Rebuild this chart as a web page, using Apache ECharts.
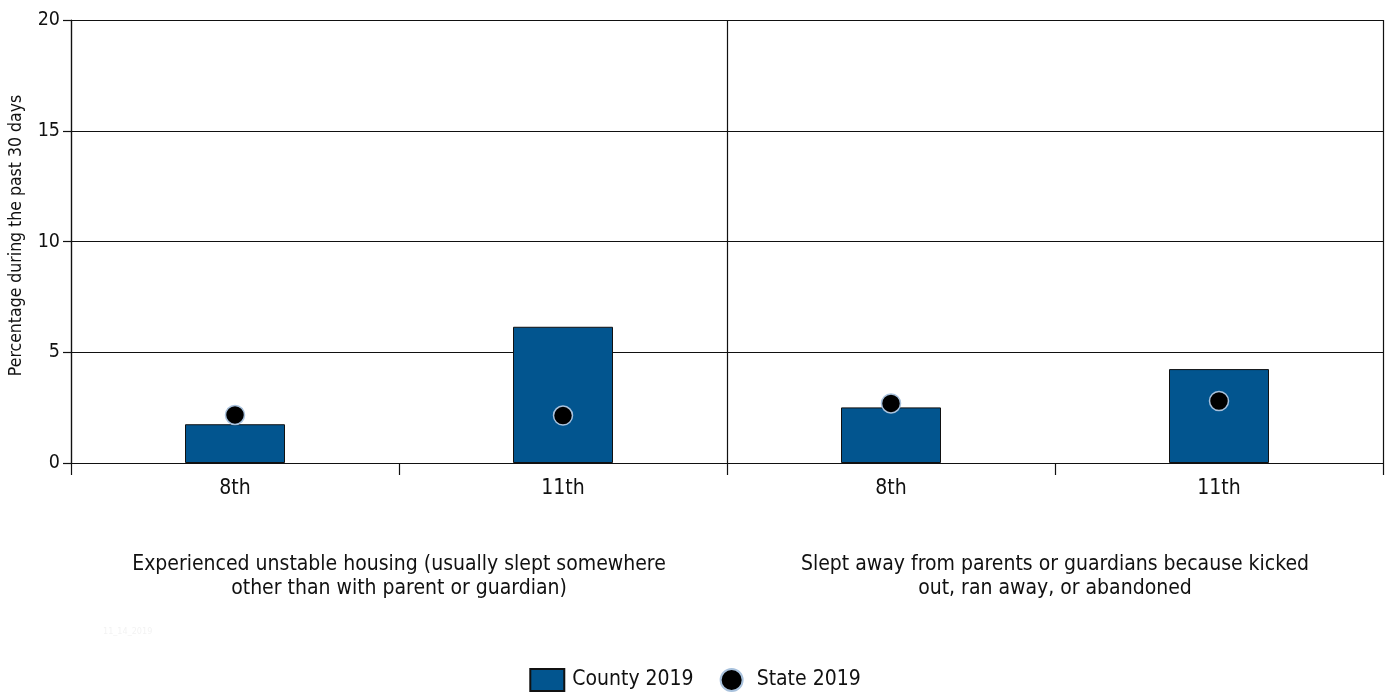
<!DOCTYPE html>
<html>
<head>
<meta charset="utf-8">
<script src="https://cdn.jsdelivr.net/npm/echarts@6/dist/echarts.min.js"></script>
<style>
html,body{margin:0;padding:0;background:#fff;}
#chart{width:1390px;height:694px;}
</style>
</head>
<body>
<div id="chart"></div>
<script>
const grades = ['8th', '11th', '8th', '11th'];
const groups = [
  'Experienced unstable housing (usually slept somewhere\nother than with parent or guardian)',
  'Slept away from parents or guardians because kicked\nout, ran away, or abandoned'
];
const county2019 = [1.75, 6.15, 2.51, 4.24];
const state2019 = [2.17, 2.14, 2.69, 2.80];
const yTicks = [0, 5, 10, 15, 20];

const FONT = '"Liberation Sans Narrow", "DejaVu Sans Condensed", "Liberation Sans", Arial, sans-serif';
const chart = echarts.init(document.getElementById('chart'), null, {renderer: 'canvas'});
chart.setOption({
  animation: false,
  backgroundColor: '#ffffff',
  textStyle: {fontFamily: FONT, color: '#111'},
  grid: {left: 71, right: 7, top: 20, bottom: 231, containLabel: false, outerBoundsMode: 'none'},
  legend: {
    top: 668,
    left: 'center',
    padding: 0,
    itemWidth: 34,
    itemHeight: 22,
    itemGap: 26,
    textStyle: {fontFamily: FONT, fontSize: 21, color: '#111', padding: [0, 0, 0, 3]},
    data: [{name: 'County 2019', icon: 'rect'}, {name: 'State 2019', icon: 'circle'}]
  },
  xAxis: [
    {
      type: 'category',
      data: grades,
      position: 'bottom',
      boundaryGap: true,
      axisLine: {show: true, lineStyle: {color: '#111', width: 1.2}},
      axisTick: {show: true, interval: 0, length: 12, alignWithLabel: false, lineStyle: {color: '#111', width: 1.2}},
      axisLabel: {interval: 0, fontFamily: FONT, fontSize: 21, color: '#111', margin: 15},
      splitLine: {show: false}
    },
    {
      type: 'category',
      data: groups,
      position: 'bottom',
      boundaryGap: true,
      axisLine: {show: false},
      axisTick: {show: false, interval: 0},
      axisLabel: {interval: 0, fontFamily: FONT, fontSize: 21, color: '#111', margin: 90, lineHeight: 24, align: 'center'},
      splitLine: {show: true, interval: 0, lineStyle: {color: '#111', width: 1.2}}
    }
  ],
  yAxis: {
    type: 'value',
    min: 0,
    max: 20,
    interval: 5,
    name: 'Percentage during the past 30 days',
    nameLocation: 'middle',
    nameGap: 46,
    nameTextStyle: {fontFamily: FONT, fontSize: 17.5, color: '#111', padding: [0, 0, 0, 12]},
    axisLine: {show: true, lineStyle: {color: '#111', width: 1.2}},
    axisTick: {show: true, length: 8, lineStyle: {color: '#111', width: 1.2}},
    axisLabel: {fontFamily: FONT, fontSize: 19.5, color: '#111', margin: 11,
      formatter: v => yTicks.includes(v) ? String(v) : ''},
    splitLine: {show: true, lineStyle: {color: '#111', width: 1.2}}
  },
  series: [
    {
      name: 'County 2019',
      type: 'bar',
      xAxisIndex: 0,
      data: county2019,
      barWidth: 100,
      itemStyle: {color: '#02558f', borderColor: '#111', borderWidth: 1}
    },
    {
      name: 'State 2019',
      type: 'scatter',
      xAxisIndex: 0,
      data: state2019,
      symbol: 'circle',
      symbolSize: 19,
      z: 5,
      itemStyle: {color: '#000000', borderColor: '#a9c2dd', borderWidth: 1.5, opacity: 1}
    }
  ],
  graphic: [
    {type: 'text', left: 103, top: 627, style: {text: '11_14_2019', fontSize: 9, fill: '#f3f3f3', fontFamily: FONT}}
  ]
});
</script>
</body>
</html>
